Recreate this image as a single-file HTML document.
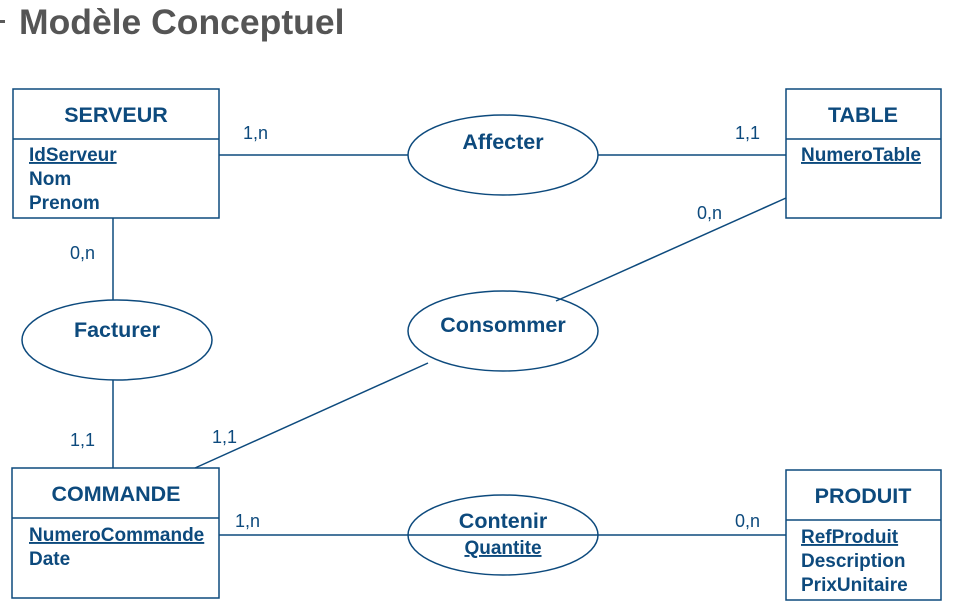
<!DOCTYPE html>
<html><head><meta charset="utf-8"><style>
body{margin:0;background:#fff;}
svg{display:block;}
text{font-family:"Liberation Sans",Arial,sans-serif;fill:#0d4a7d;}
</style></head><body>
<svg width="960" height="610" viewBox="0 0 960 610" xmlns="http://www.w3.org/2000/svg">
<rect x="0" y="20" width="5" height="3" fill="#5a5a5a"/>
<text x="19" y="34" style="font-size:35.5px;font-weight:bold;fill:#555">Modèle Conceptuel</text>
<g stroke="#0d4a7d" stroke-width="1.5" fill="none">
<rect x="13" y="89" width="206" height="129"/><line x1="13" y1="139" x2="219" y2="139"/>
<rect x="786" y="89" width="155" height="129"/><line x1="786" y1="139" x2="941" y2="139"/>
<rect x="12" y="468" width="207" height="130"/><line x1="12" y1="518" x2="219" y2="518"/>
<rect x="786" y="470" width="155" height="130"/><line x1="786" y1="520" x2="941" y2="520"/>
<ellipse cx="503" cy="155" rx="95" ry="40"/>
<ellipse cx="117" cy="340" rx="95" ry="40"/>
<ellipse cx="503" cy="331" rx="95" ry="40"/>
<ellipse cx="503" cy="535" rx="95" ry="40"/>
<line x1="219" y1="155" x2="408" y2="155"/><line x1="598" y1="155" x2="786" y2="155"/>
<line x1="113" y1="218" x2="113" y2="300"/><line x1="113" y1="380" x2="113" y2="468"/>
<line x1="556" y1="301" x2="786" y2="198"/><line x1="428" y1="363" x2="195" y2="468"/>
<line x1="219" y1="535" x2="786" y2="535"/>
</g>
<g style="font-size:21.5px;font-weight:bold" text-anchor="middle">
<text x="116" y="122">SERVEUR</text>
<text x="863" y="122">TABLE</text>
<text x="116" y="501">COMMANDE</text>
<text x="863" y="503">PRODUIT</text>
<text x="503" y="149">Affecter</text>
<text x="117" y="337">Facturer</text>
<text x="503" y="332">Consommer</text>
<text x="503" y="528">Contenir</text>
</g>
<g style="font-size:19px;font-weight:bold">
<text x="29" y="161" text-decoration="underline">IdServeur</text>
<text x="29" y="185">Nom</text>
<text x="29" y="209">Prenom</text>
<text x="801" y="161" text-decoration="underline">NumeroTable</text>
<text x="29" y="541" text-decoration="underline">NumeroCommande</text>
<text x="29" y="565">Date</text>
<text x="801" y="543" text-decoration="underline">RefProduit</text>
<text x="801" y="567">Description</text>
<text x="801" y="591">PrixUnitaire</text>
<text x="503" y="554" text-anchor="middle" text-decoration="underline">Quantite</text>
</g>
<g style="font-size:18px">
<text x="243" y="139">1,n</text>
<text x="735" y="139">1,1</text>
<text x="697" y="219">0,n</text>
<text x="70" y="259">0,n</text>
<text x="70" y="446">1,1</text>
<text x="212" y="443">1,1</text>
<text x="235" y="527">1,n</text>
<text x="735" y="527">0,n</text>
</g>
</svg>
</body></html>
